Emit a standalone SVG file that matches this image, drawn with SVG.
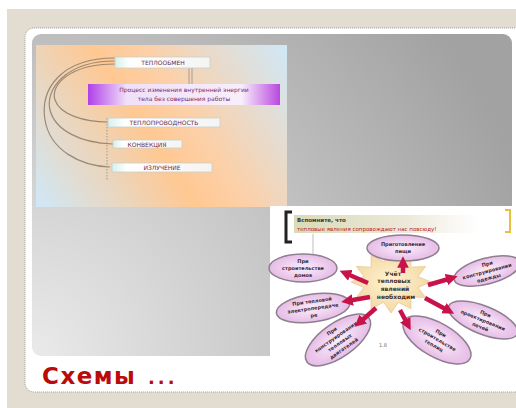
<svg xmlns="http://www.w3.org/2000/svg" width="516" height="408" viewBox="0 0 516 408">
<defs>
<style>
.t1{font-family:"DejaVu Sans","Liberation Sans",sans-serif;font-size:6px;fill:#6a2a4a;text-anchor:middle}
.tp{font-family:"DejaVu Sans","Liberation Sans",sans-serif;font-size:6px;fill:#7a2a6a;text-anchor:middle}
.te{font-family:"DejaVu Sans","Liberation Sans",sans-serif;font-size:5px;font-weight:bold;fill:#3a2a3a;text-anchor:middle}
.ts{font-family:"DejaVu Sans","Liberation Sans",sans-serif;font-size:6px;font-weight:bold;fill:#4a3020;text-anchor:middle}
.box{fill:url(#boxg);stroke:#c8d0c8;stroke-width:0.8}
.arc{fill:none;stroke:#8c7b6a;stroke-width:1.2;opacity:0.85}
.ell{fill:url(#pink);stroke:#8e7e8e;stroke-width:1.5}
.arr{stroke:#c8124a;stroke-width:4.5;fill:none;marker-end:url(#ah)}
</style>
<radialGradient id="bg" cx="32" cy="356" r="520" gradientUnits="userSpaceOnUse">
<stop offset="0" stop-color="#eaeaea"/><stop offset="1" stop-color="#a2a2a2"/>
</radialGradient>
<linearGradient id="img1" x1="36" y1="207" x2="287" y2="45" gradientUnits="userSpaceOnUse">
<stop offset="0" stop-color="#cfe8f8"/><stop offset="0.45" stop-color="#ffc892"/><stop offset="0.6" stop-color="#fcd0a8"/><stop offset="1" stop-color="#cfe8f8"/>
</linearGradient>
<linearGradient id="boxg" x1="0" y1="0" x2="1" y2="0">
<stop offset="0" stop-color="#d8f0ec"/><stop offset="0.15" stop-color="#ffffff"/><stop offset="1" stop-color="#f4f4f4"/>
</linearGradient>
<linearGradient id="purp" x1="0" y1="0" x2="1" y2="0">
<stop offset="0" stop-color="#b040e8"/><stop offset="0.2" stop-color="#f0e0f8"/><stop offset="0.8" stop-color="#f8eefa"/><stop offset="1" stop-color="#b848e0"/>
</linearGradient>
<linearGradient id="hdr" x1="0" y1="0" x2="1" y2="0">
<stop offset="0" stop-color="#d8dcb8"/><stop offset="0.6" stop-color="#ece8d8"/><stop offset="1" stop-color="#ffffff"/>
</linearGradient>
<radialGradient id="pink" cx="0.5" cy="0.5" r="0.5">
<stop offset="0" stop-color="#fbeefb"/><stop offset="1" stop-color="#e6bce6"/>
</radialGradient>
<radialGradient id="star" cx="0.5" cy="0.5" r="0.5">
<stop offset="0" stop-color="#fff4d4"/><stop offset="1" stop-color="#f4d8a4"/>
</radialGradient>
<marker id="ah" viewBox="0 0 10 10" refX="5" refY="5" markerWidth="2.6" markerHeight="2.6" orient="auto">
<path d="M0,0 L10,5 L0,10 z" fill="#c8124a"/>
</marker>
</defs>

<rect x="0" y="0" width="516" height="408" fill="#ffffff"/>
<rect x="7" y="9" width="509" height="399" fill="#e3ddd1"/>
<rect x="25" y="28" width="500" height="364" rx="9" fill="#ffffff" stroke="#a0a0a0" stroke-width="1" stroke-dasharray="1 1"/>
<rect x="32" y="34" width="480" height="322" rx="9" fill="url(#bg)"/>

<g id="image1">
<rect x="36" y="45" width="251" height="162" fill="url(#img1)"/>
</g>

<g id="connectors1">
<path class="arc" d="M115,58 C60,58 40,90 45,120 C50,150 80,166 110,167"/>
<path class="arc" d="M115,61 C65,61 45,90 50,110 C55,130 80,143 113,144"/>
<path class="arc" d="M115,64 C70,64 50,85 55,100 C60,115 85,122 108,122"/>
<line x1="189" y1="68" x2="189" y2="84" stroke="#909090" stroke-width="0.8"/>
<line x1="192" y1="68" x2="192" y2="84" stroke="#909090" stroke-width="0.8"/>
<line x1="107" y1="118" x2="107" y2="180" stroke="#8aa0a0" stroke-width="1" stroke-dasharray="1.5 1.5"/>
</g>

<g id="n-teploobmen">
<rect class="box" x="115" y="57" width="95" height="11"/>
<text class="t1" x="163" y="65">ТЕПЛООБМЕН</text>
</g>
<g id="n-process">
<rect x="88" y="84" width="192" height="21" fill="url(#purp)"/>
<text class="tp" x="184" y="92">Процесс изменения внутренней энергии</text>
<text class="tp" x="184" y="101">тела без совершения работы</text>
</g>
<g id="n-teploprovodnost">
<rect class="box" x="108" y="118" width="112" height="9"/>
<text class="t1" x="164" y="125">ТЕПЛОПРОВОДНОСТЬ</text>
</g>
<g id="n-konvekciya">
<rect class="box" x="113" y="140" width="69" height="8"/>
<text class="t1" x="147" y="146.5">КОНВЕКЦИЯ</text>
</g>
<g id="n-izluchenie">
<rect class="box" x="112" y="163" width="100" height="9"/>
<text class="t1" x="162" y="170">ИЗЛУЧЕНИЕ</text>
</g>

<g id="image2">
<rect x="270" y="206" width="246" height="162" fill="#ffffff"/>
<rect x="294" y="215" width="184" height="18" fill="url(#hdr)"/>
<path d="M292,212 L286,212 L286,242 L292,242" fill="none" stroke="#222" stroke-width="3"/>
<path d="M505,210 L510,210 L510,232 L505,232" fill="none" stroke="#e6c040" stroke-width="2"/>
<text x="297" y="222" font-family="DejaVu Sans, sans-serif" font-size="5.5" font-weight="bold" fill="#3a3a2a">Вспомните, что</text>
<text x="297" y="231" font-family="DejaVu Sans, sans-serif" font-size="5.5" fill="#c02020">тепловые явления сопровождают нас повсюду!</text>
<line x1="313" y1="234" x2="313" y2="255" stroke="#a0a0a0" stroke-width="0.7"/>
<text x="383" y="347" font-family="DejaVu Sans, sans-serif" font-size="5" fill="#707070" text-anchor="middle">1.8</text>
</g>

<g id="n-center">
<polygon points="431,282 418,287.4 425.6,297.5 410.8,296.8 411,308.8 398.3,302.3 391,313 383.7,302.3 371,308.8 371.2,296.8 356.4,297.5 364,287.4 351,282 364,276.6 356.4,266.5 371.2,267.2 371,255.2 383.7,261.7 391,251 398.3,261.7 411,255.2 410.8,267.2 425.6,266.5 418,276.6" fill="url(#star)" stroke="#e8c890" stroke-width="0.8"/>
<text class="ts" x="393" y="276">Учёт</text>
<text class="ts" x="394" y="283">тепловых</text>
<text class="ts" x="395" y="290.5">явлений</text>
<text class="ts" x="396" y="299">необходим</text>
</g>

<g id="n-e1">
<ellipse class="ell" cx="403" cy="248" rx="36" ry="13"/>
<text class="te" x="403" y="246">Приготовление</text>
<text class="te" x="403" y="253">пищи</text>
</g>
<g id="n-e2">
<ellipse class="ell" cx="303" cy="268" rx="34" ry="14"/>
<text class="te" x="303" y="263">При</text>
<text class="te" x="303" y="270">строительстве</text>
<text class="te" x="303" y="277">домов</text>
</g>
<g id="n-e3" transform="rotate(-15 487 271)">
<ellipse class="ell" cx="487" cy="271" rx="34" ry="13"/>
<text class="te" x="489" y="266">При</text>
<text class="te" x="487" y="273">конструировании</text>
<text class="te" x="487" y="280">одежды</text>
</g>
<g id="n-e4" transform="rotate(-8 313 308)">
<ellipse class="ell" cx="313" cy="308" rx="37" ry="14"/>
<text class="te" x="313" y="303">При тепловой</text>
<text class="te" x="313" y="310">электропередаче</text>
<text class="te" x="313" y="317">ре</text>
</g>
<g id="n-e5" transform="rotate(22 483 320)">
<ellipse class="ell" cx="483" cy="320" rx="37" ry="14"/>
<text class="te" x="483" y="315">При</text>
<text class="te" x="483" y="322">проектировании</text>
<text class="te" x="483" y="329">печей</text>
</g>
<g id="n-e6" transform="rotate(-35 338 340)">
<ellipse class="ell" cx="338" cy="340" rx="38" ry="17"/>
<text class="te" x="338" y="331">При</text>
<text class="te" x="338" y="338">конструировании</text>
<text class="te" x="338" y="345">тепловых</text>
<text class="te" x="338" y="352">двигателей</text>
</g>
<g id="n-e7" transform="rotate(30 437 340)">
<ellipse class="ell" cx="437" cy="340" rx="38" ry="17"/>
<text class="te" x="437" y="334">При</text>
<text class="te" x="437" y="341">строительстве</text>
<text class="te" x="437" y="348">теплиц</text>
</g>

<g id="connectors2">
<line class="arr" x1="403" y1="273" x2="403" y2="262"/>
<line class="arr" x1="368" y1="283" x2="345" y2="273"/>
<line class="arr" x1="428" y1="285" x2="452" y2="278"/>
<line class="arr" x1="370" y1="297" x2="347" y2="301"/>
<line class="arr" x1="425" y1="298" x2="449" y2="311"/>
<line class="arr" x1="376" y1="308" x2="359" y2="323"/>
<line class="arr" x1="400" y1="310" x2="408" y2="325"/>
</g>

<g id="title">
<text x="42" y="384" font-family="DejaVu Sans, Verdana, sans-serif" font-size="23" font-weight="bold" fill="#bb0a0a" letter-spacing="1.5">Схемы<tspan x="148" font-size="18" letter-spacing="3">...</tspan></text>
</g>
</svg>
